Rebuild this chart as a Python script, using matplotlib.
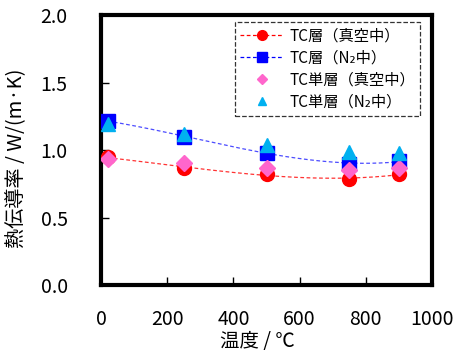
import numpy as np
import matplotlib
matplotlib.use('Agg')
from matplotlib import pyplot as plt
from matplotlib.lines import Line2D

plt.rcParams['font.family'] = ['Noto Sans CJK JP', 'DejaVu Sans']

temp = [20, 250, 500, 750, 900]
tc_vac = [0.945, 0.87, 0.82, 0.785, 0.82]
tc_n2 = [1.215, 1.10, 0.98, 0.90, 0.915]
single_vac = [0.935, 0.905, 0.865, 0.85, 0.87]
single_n2 = [1.195, 1.12, 1.04, 0.985, 0.98]

labels = ['TC層（真空中）', 'TC層（N₂中）', 'TC単層（真空中）', 'TC単層（N₂中）']

RED = '#ff0000'
BLUE = '#0000ff'
PINK = '#ff66cc'
CYAN = '#00b0f0'

fig = plt.figure(figsize=(4.6, 3.6), dpi=100)
ax = fig.add_axes([0.2196, 0.2083, 0.7196, 0.7500])

# trend curves (cubic fits of the TC layer data)
xs = np.linspace(temp[0], temp[-1], 200)
fit_vac = np.polyval(np.polyfit(temp, tc_vac, 3), xs)
fit_n2 = np.polyval(np.polyfit(temp, tc_n2, 3), xs)
ax.plot(xs, fit_vac, '--', color=RED, lw=0.9, alpha=0.8, dashes=(3, 2))
ax.plot(xs, fit_n2, '--', color=BLUE, lw=0.9, alpha=0.7, dashes=(3, 2))

ax.plot(temp, tc_vac, 'o', color=RED, ms=10, ls='none', zorder=3)
ax.plot(temp, tc_n2, 's', color=BLUE, ms=10, ls='none', zorder=3)
ax.plot(temp, single_vac, 'D', color=PINK, ms=8, ls='none', zorder=4)
ax.plot(temp, single_n2, '^', color=CYAN, ms=10, ls='none', zorder=4)

ax.set_xlim(0, 1000)
ax.set_ylim(0, 2.0)
ax.set_xticks([0, 200, 400, 600, 800, 1000])
ax.set_yticks([0.0, 0.5, 1.0, 1.5, 2.0])
ax.set_yticklabels(['0.0', '0.5', '1.0', '1.5', '2.0'])
ax.tick_params(direction='in', length=6, width=1, labelsize=14)
ax.tick_params(axis='x', pad=17)
ax.tick_params(axis='y', pad=24)
for s in ax.spines.values():
    s.set_linewidth(3)

ax.set_xlabel('温度 / ℃', fontsize=14)
ax.set_ylabel('熱伝導率 / W/(m·K)', fontsize=14.5)
ax.xaxis.set_label_coords(0.474, -0.21)
ax.xaxis.label.set_va('center')
ax.yaxis.set_label_coords(-0.254, 0.47)
ax.yaxis.label.set_va('center')

handles = [
    Line2D([], [], color=RED, ls='--', lw=0.9, dashes=(3, 2), marker='o', ms=7),
    Line2D([], [], color=BLUE, ls='--', lw=0.9, dashes=(3, 2), marker='s', ms=7),
    Line2D([], [], color=PINK, ls='none', marker='D', ms=5),
    Line2D([], [], color=CYAN, ls='none', marker='^', ms=6),
]
leg = ax.legend(handles, labels, loc='upper right', bbox_to_anchor=(0.964, 0.974),
                borderaxespad=0, fontsize=11, fancybox=False, framealpha=1,
                handlelength=2.8, handletextpad=0.4, labelspacing=0.33,
                borderpad=0.35)
leg.get_frame().set_edgecolor('#333333')
leg.get_frame().set_linestyle('--')
leg.get_frame().set_linewidth(0.9)

fig.savefig('out.png', dpi=100)
